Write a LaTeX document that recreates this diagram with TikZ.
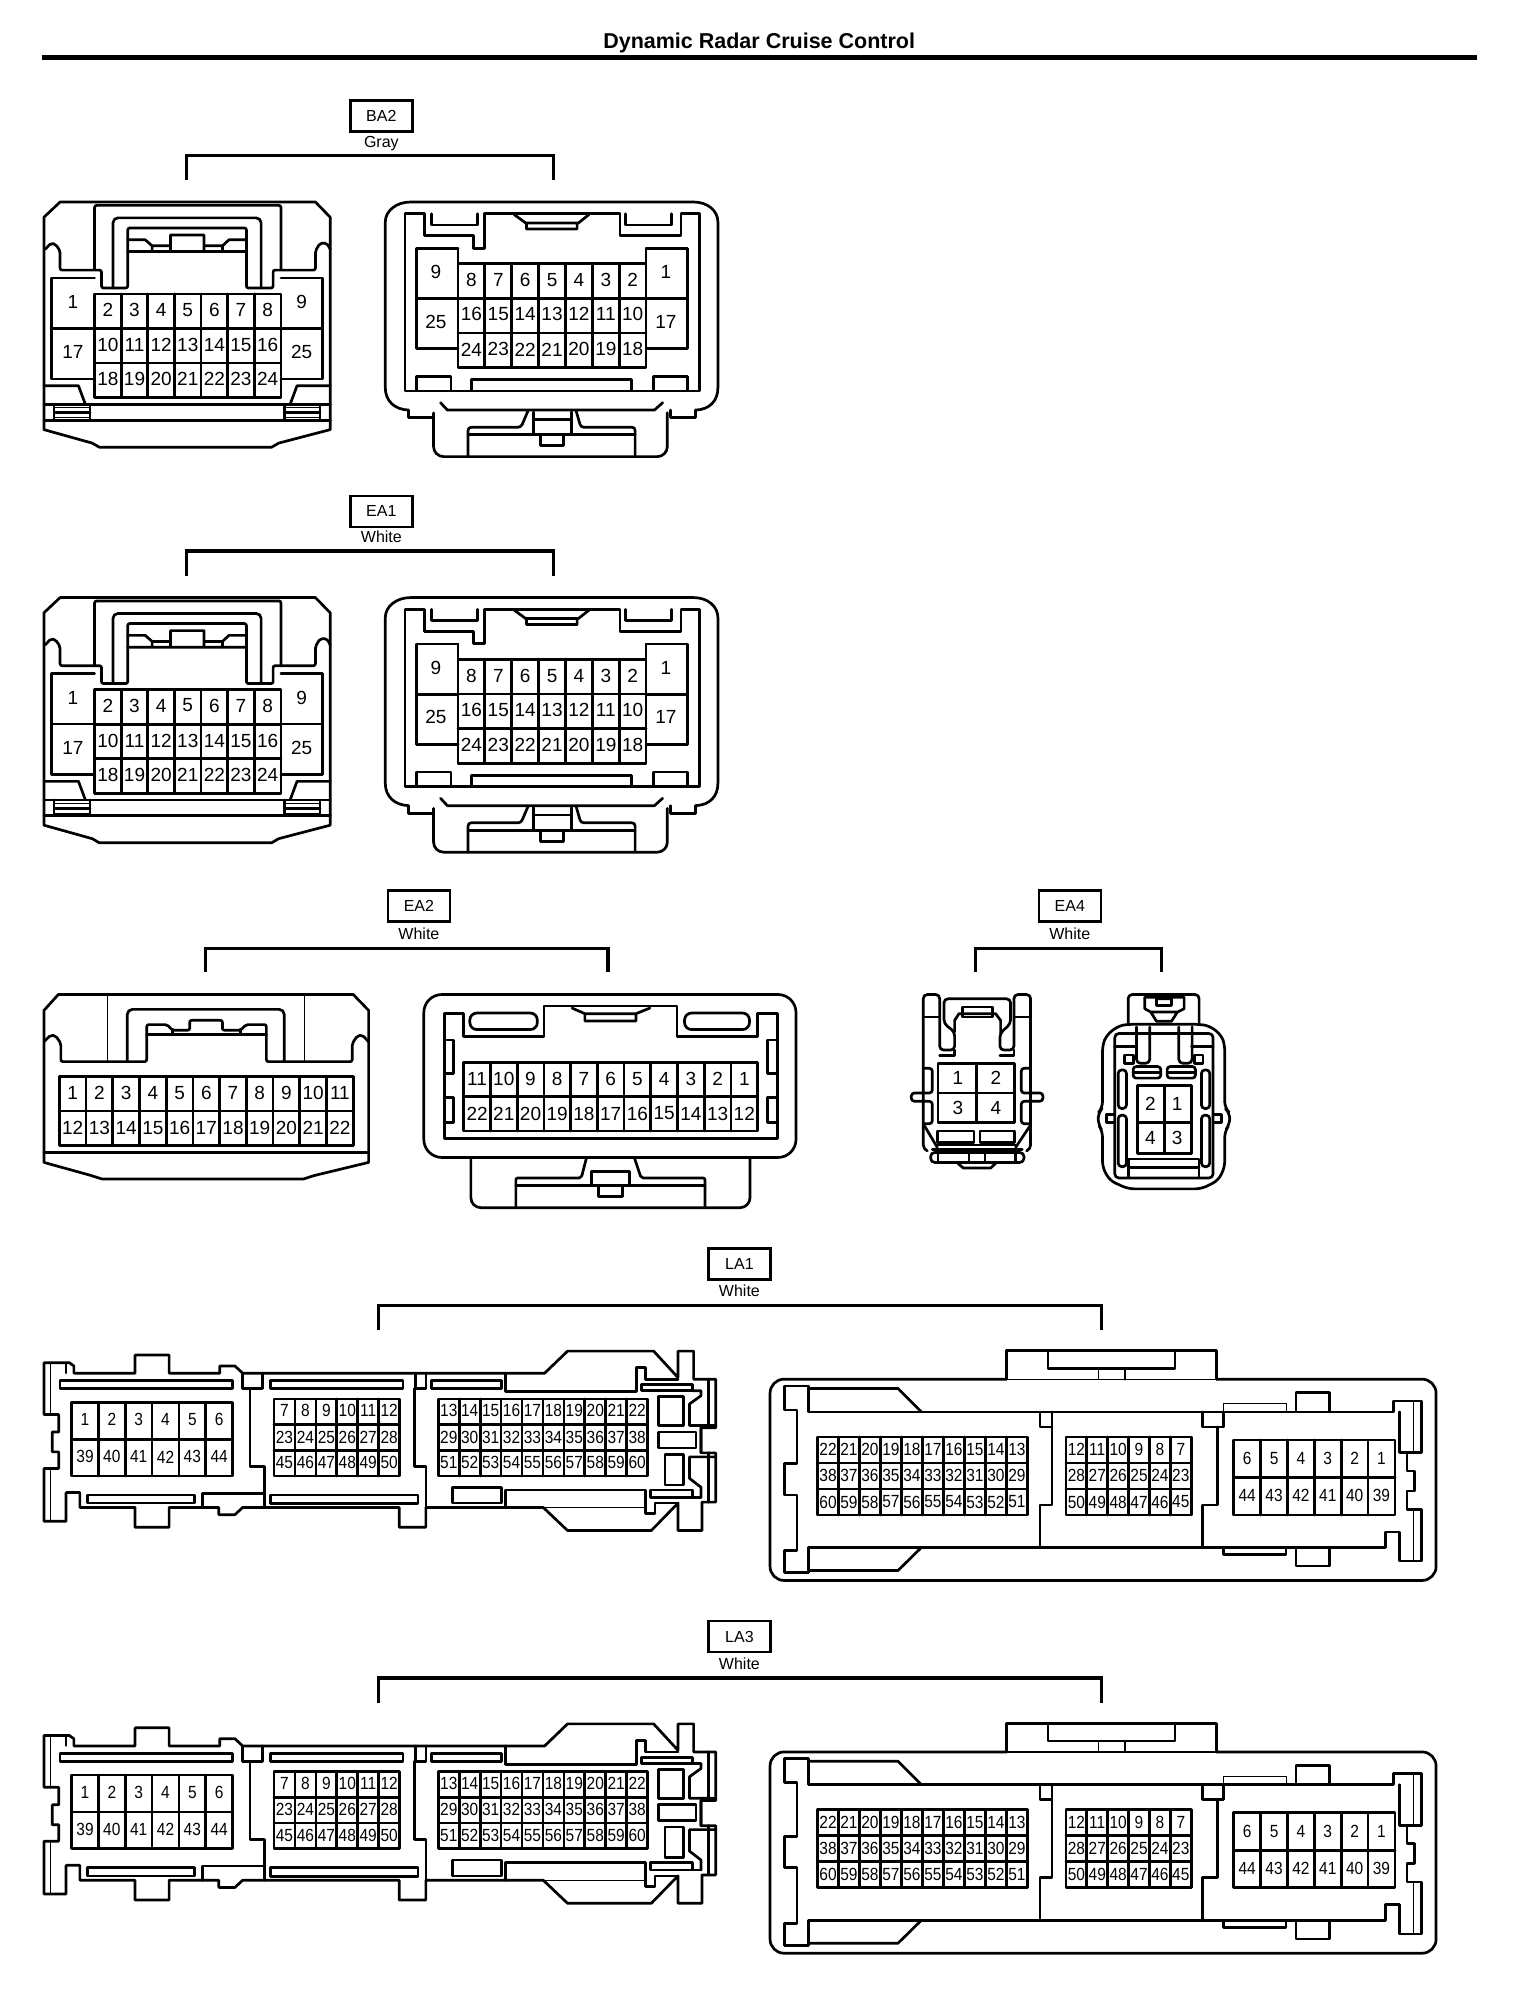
\documentclass[tikz,border=0pt]{standalone}
\usepackage{fontspec}
\setmainfont{Liberation Sans}
\newfontfamily\narrowf[FakeStretch=0.88]{Liberation Sans}
\tikzset{
  ln/.style={line width=1.35pt,line join=round,line cap=round},
  thn/.style={line width=0.6pt,line join=round,line cap=round},
  brk/.style={line width=1.7pt,line join=miter},
  pinlbl/.style={inner sep=0pt,font=\fontsize{9.5}{10}\selectfont},
  lbox/.style={draw,line width=1.2pt,minimum width=31pt,minimum height=15.5pt,inner sep=0pt,font=\fontsize{8}{9}\selectfont},
  lcol/.style={inner sep=0pt,font=\fontsize{8}{9}\selectfont},
  fa/.style={x=0.23256pt,y=-0.17007pt},
  fb/.style={x=0.2584pt,y=-0.16667pt},
  fc/.style={x=0.16835pt,y=-0.16667pt},
  fd/.style={x=0.23256pt,y=-0.16667pt},
  fe/.style={x=0.22624pt,y=-0.16835pt}
}
\newcommand\pinrow[6]{% y, x0, x1, n, first, step
  \foreach \i in {1,...,#4}{%
    \pgfmathsetmacro\cx{#2+(\i-.5)*(#3-#2)/#4}%
    \pgfmathtruncatemacro\lb{#5+(\i-1)*(#6)}%
    \node[pinlbl] (\cn-\lb) at (\cx,#1) {\lb};}}
\newcommand\cgrid[6]{% x0,x1,n,y0,y1,m
  \draw[ln] (#1,#4) rectangle (#2,#5);
  \pgfmathtruncatemacro\nnx{#3-1}%
  \pgfmathtruncatemacro\nny{#6-1}%
  \foreach \i in {1,...,\nnx}{\draw[ln] ({#1+\i*(#2-#1)/#3},#4) -- ({#1+\i*(#2-#1)/#3},#5);}
  \foreach \i in {1,...,\nny}{\draw[ln] (#1,{#4+\i*(#5-#4)/#6}) -- (#2,{#4+\i*(#5-#4)/#6});}}
\newcommand\conlabel[7]{% name, cx, yc, ytext, text, colour, unused
  \node[lbox] (#1) at (#2,#3) {#5};
  \node[lcol] (#1c) at (#2,#4) {#6};}
\newcommand\bracketd[5]{% name, xl, xr, ytop, yend
  \coordinate (#1l) at (#2,#5);
  \coordinate (#1r) at (#3,#5);
  \coordinate (#1t) at (#2,#4);
  \draw[brk] (#1l) -- (#1t) -- (#1r|-#1t) -- (#1r);}
% ---- BA2 / EA1 left
\newcommand\connBL{%
  \draw[ln] (30,380) -- (65,335) -- (620,335) -- (652,380) -- (652,1010) -- (540,1050) -- (525,1062) -- (150,1062) -- (135,1050) -- (30,1010) -- cycle;
  \draw[ln] (30,935) -- (652,935) (30,982) -- (652,982) (52,935) -- (52,982) (130,935) -- (130,982) (552,935) -- (552,982) (630,935) -- (630,982);
  \draw[thn] (55,945) -- (130,945) (55,975) -- (130,975) (552,945) -- (630,945) (552,975) -- (630,975);
  \draw[ln] (55,960) -- (130,960) (552,960) -- (630,960);
  \draw[ln,rounded corners=1pt] (140,535) -- (140,345) -- (545,345) -- (545,535);
  \draw[ln,rounded corners=1pt] (33,475) -- (45,457) -- (55,460) -- (65,480) -- (65,537) -- (155,537) -- (155,590) -- (212,590) -- (212,412) -- (470,412) -- (470,590) -- (528,590) -- (528,537) -- (620,537) -- (620,480) -- (630,457) -- (645,457) -- (652,475);
  \draw[ln,rounded corners=2.5pt] (180,590) -- (180,382) -- (502,382) -- (502,590);
  \draw[ln] (212,447) -- (250,447) -- (265,465) -- (305,465) -- (305,433) -- (378,433) -- (378,465) -- (418,465) -- (432,447) -- (470,447) (212,482) -- (470,482) (265,465) -- (265,482) (305,465) -- (305,482) (378,465) -- (378,482) (418,465) -- (418,482);
  \draw[ln] (140,560) -- (47,560) -- (47,860) -- (140,860) (47,710) -- (140,710);
  \draw[ln] (545,560) -- (635,560) -- (635,860) -- (545,860) (545,710) -- (635,710);
  \draw[ln] (30,880) -- (105,880) -- (120,935) (652,880) -- (580,880) -- (565,935);
  \cgrid{140}{545}{7}{608}{915}{3}
  \node[pinlbl] (\cn-1) at (93,632) {1};
  \node[pinlbl] (\cn-17) at (93,780) {17};
  \node[pinlbl] (\cn-9) at (590,632) {9};
  \node[pinlbl] (\cn-25) at (590,780) {25};
  \pinrow{655}{140}{545}{7}{2}{1}
  \pinrow{760}{140}{545}{7}{10}{1}
  \pinrow{860}{140}{545}{7}{18}{1}
}
% ---- BA2 / EA1 right
\newcommand\connBR{%
  \draw[ln] (825,952) -- (825,975) -- (880,975) (1395,952) -- (1395,975) -- (1450,975) -- (1450,952);
  \draw[ln] (825,952) .. controls (795,950) and (775,925) .. (775,885) -- (775,395) .. controls (775,360) and (800,335) .. (830,335) -- (1445,335) .. controls (1475,335) and (1498,360) .. (1498,395) -- (1498,885) .. controls (1498,925) and (1480,950) .. (1450,952);
  \draw[ln,rounded corners=5pt] (880,960) -- (880,1090) -- (1388,1090) -- (1388,960);
  \draw[ln] (895,930) -- (910,952) -- (1360,952) -- (1378,930);
  \draw[ln,rounded corners=1.5pt] (955,1090) -- (955,1003) -- (1070,1003) -- (1085,955);
  \draw[ln,rounded corners=1.5pt] (1190,955) -- (1200,1003) -- (1318,1003) -- (1318,1090);
  \draw[ln] (955,1025) -- (1318,1025) (1097,980) rectangle (1180,1025) (1112,1025) rectangle (1162,1058) (1097,980) -- (1097,958) (1180,980) -- (1180,958);
  \draw[ln] (818,895) -- (818,370) -- (860,370) -- (860,435) -- (967,435) -- (967,472) -- (990,472) -- (990,370) -- (1285,370) -- (1285,435) -- (1418,435) -- (1418,370) -- (1458,370) -- (1458,895) -- cycle;
  \draw[ln] (875,370) -- (875,403) -- (975,403) -- (975,370) (1297,370) -- (1297,403) -- (1397,403) -- (1397,370);
  \draw[ln] (1055,372) -- (1080,397) -- (1195,397) -- (1218,372) (1082,397) -- (1082,415) -- (1192,415) -- (1192,397);
  \draw[ln] (843,893) -- (843,852) -- (918,852) -- (918,893) (1358,893) -- (1358,852) -- (1432,852) -- (1432,893) (962,893) -- (962,862) -- (1310,862) -- (1310,893);
  \draw[ln] (933,473) -- (843,473) -- (843,770) -- (933,770) (843,622) -- (933,622);
  \draw[ln] (1342,473) -- (1432,473) -- (1432,770) -- (1342,770) (1342,622) -- (1432,622);
  \cgrid{933}{1342}{7}{518}{826}{3}
  \draw[ln] (933,473) -- (933,518) (1342,473) -- (1342,518);
  \node[pinlbl] (\cn-9) at (885,543) {9};
  \node[pinlbl] (\cn-25) at (885,690) {25};
  \node[pinlbl] (\cn-1) at (1385,543) {1};
  \node[pinlbl] (\cn-17) at (1385,690) {17};
  \pinrow{567}{933}{1342}{7}{8}{-1}
  \pinrow{668}{933}{1342}{7}{16}{-1}
  \pinrow{772}{933}{1342}{7}{24}{-1}
}
% ---- LA left
\newcommand\connLL{%
  \draw[ln] (30,65) -- (30,222) -- (62,222) -- (62,275) -- (48,275) -- (48,335) -- (62,335) -- (62,385) -- (30,385) -- (30,545) -- (78,545) -- (78,458) -- (108,458) -- (108,503) -- (228,503) -- (228,563) -- (302,563) -- (302,503) -- (410,503) -- (410,525) -- (445,525) -- (462,503) -- (802,503) -- (802,563) -- (860,563) -- (860,503) -- (1115,503) -- (1168,573) -- (1350,573) -- (1408,490) -- (1408,573) -- (1460,573) -- (1460,487) -- (1490,487) -- (1490,338) -- (1458,338) -- (1458,262) -- (1490,262) -- (1490,115) -- (1442,115) -- (1442,30) -- (1408,30) -- (1408,110) -- (1355,30) -- (1168,30) -- (1118,97) -- (462,97) -- (445,75) -- (412,75) -- (412,97) -- (302,97) -- (302,42) -- (228,42) -- (228,97) -- (95,97) -- (95,75) -- (85,65) -- cycle;
  \draw[thn] (45,65) -- (45,222) (45,385) -- (45,545) (78,65) -- (78,97);
  \draw[ln] (65,120) rectangle (440,143) (522,120) rectangle (810,143) (872,120) rectangle (1025,143) (522,465) rectangle (843,492) (125,465) rectangle (357,490) (918,442) rectangle (1025,490);
  \draw[ln] (462,97) -- (462,143) -- (505,143) -- (505,97) (838,97) -- (838,143) -- (860,143) -- (860,97);
  \draw[ln] (478,143) -- (478,380) -- (510,380) -- (510,503) (835,143) -- (835,380) -- (860,380) -- (860,503);
  \draw[ln] (375,503) -- (375,460) -- (505,460);
  \draw[ln] (1033,97) -- (1033,152) -- (1318,152) -- (1318,80) -- (1337,80) -- (1337,115) -- (1408,115);
  \draw[ln] (1033,503) -- (1033,450) -- (1338,450) -- (1338,522) -- (1358,522) -- (1358,490) -- (1408,490);
  \draw[thn] (1115,503) -- (1338,503);
  \draw[ln] (1328,132) rectangle (1440,150) (1348,450) rectangle (1440,472);
  \draw[ln] (1365,168) rectangle (1420,255) (1365,275) rectangle (1447,323) (1380,342) rectangle (1420,435);
  \draw[ln] (1440,150) -- (1458,150) -- (1458,165) -- (1433,190) -- (1433,255) -- (1490,255) (1458,262) -- (1458,338) (1458,472) -- (1458,442) -- (1433,415) -- (1433,350) -- (1490,350);
  \draw[ln] (1475,115) -- (1475,262) (1475,338) -- (1475,487) (1440,472) -- (1458,472);
  \tikzset{pinlbl/.append style={font=\fontsize{8.8}{10}\narrowf}}
  \cgrid{90}{440}{6}{185}{408}{2}
  \pinrow{238}{90}{440}{6}{1}{1}
  \pinrow{350}{90}{440}{6}{39}{1}
  \cgrid{530}{803}{6}{175}{408}{3}
  \pinrow{210}{530}{803}{6}{7}{1}
  \pinrow{290}{530}{803}{6}{23}{1}
  \pinrow{368}{530}{803}{6}{45}{1}
  \cgrid{887}{1342}{10}{175}{408}{3}
  \pinrow{210}{887}{1342}{10}{13}{1}
  \pinrow{290}{887}{1342}{10}{29}{1}
  \pinrow{368}{887}{1342}{10}{51}{1}
}
% ---- LA right
\newcommand\connLR{%
  \draw[ln,rounded corners=7pt] (550,115) -- (22,115) -- (22,718) -- (1510,718) -- (1510,115) -- (1020,115);
  \draw[ln] (550,115) -- (550,30) -- (1020,30) -- (1020,115) (643,35) -- (643,82) -- (927,82) -- (927,35) (815,85) -- (815,115);
  \draw[thn] (755,85) -- (755,115) (550,115) -- (1020,115);
  \draw[ln] (108,213) -- (108,135) -- (55,135) -- (55,207) -- (82,207) -- (82,368) -- (55,368) -- (55,462) -- (82,462) -- (82,628) -- (55,628) -- (55,695) -- (108,695) -- (108,620) -- (1397,620) -- (1397,573) -- (1428,573) -- (1428,660) -- (1478,660) -- (1478,505) -- (1445,505) -- (1445,450) -- (1462,450) -- (1462,390) -- (1445,390) -- (1445,335) -- (1478,335) -- (1478,180) -- (1415,180) -- (1415,213) -- cycle;
  \draw[ln] (1428,213) -- (1428,335) -- (1445,335);
  \draw[thn] (1460,180) -- (1460,335) (1460,505) -- (1460,660);
  \draw[ln] (108,143) -- (308,143) -- (360,213) (108,688) -- (308,688) -- (358,622);
  \draw[thn] (1035,213) -- (1035,188) -- (1175,188) -- (1175,213);
  \draw[ln] (1197,213) -- (1197,155) -- (1272,155) -- (1272,213);
  \draw[ln] (1035,620) -- (1035,640) -- (1175,640) -- (1175,620) (1197,620) -- (1197,675) -- (1272,675) -- (1272,620);
  \draw[ln] (625,213) -- (625,258) -- (652,258) -- (652,213) (652,258) -- (652,492) -- (625,492) -- (625,620);
  \draw[ln] (988,213) -- (988,258) -- (1035,258) -- (1035,213) (1022,258) -- (1022,492) -- (988,492) -- (988,620);
  \tikzset{pinlbl/.append style={font=\fontsize{8.8}{10}\narrowf}}
  \cgrid{128}{597}{10}{288}{522}{3}
  \pinrow{325}{128}{597}{10}{22}{-1}
  \pinrow{403}{128}{597}{10}{38}{-1}
  \pinrow{483}{128}{597}{10}{60}{-1}
  \cgrid{683}{963}{6}{288}{522}{3}
  \pinrow{325}{683}{963}{6}{12}{-1}
  \pinrow{403}{683}{963}{6}{28}{-1}
  \pinrow{483}{683}{963}{6}{50}{-1}
  \cgrid{1058}{1418}{6}{297}{522}{2}
  \pinrow{352}{1058}{1418}{6}{6}{-1}
  \pinrow{463}{1058}{1418}{6}{44}{-1}
}
\begin{document}
\begin{tikzpicture}[x=0.5pt,y=-0.5pt]
\useasboundingbox[fill=white] (0,0) rectangle (1520,1990);
\begin{scope}[shift={(0.5,1.8)},xscale=0.9892,yscale=0.9914]
% title
\node[inner sep=0pt,font=\fontsize{10.75}{12}\selectfont\bfseries] (title) at (767,42) {Dynamic Radar Cruise Control};
\coordinate (ruleL) at (42,56);
\coordinate (ruleR) at (1493,56);
\draw[line width=2.6pt] (ruleL) -- (ruleR);
% BA2
\conlabel{ba2}{385}{115}{143}{BA2}{Gray}{}
\bracketd{ba2b}{188}{559}{155}{180}
\begin{scope}[shift={(30,88)},fa]\def\cn{BA2L}\connBL\end{scope}
\begin{scope}[shift={(28.5,88)},fa]\def\cn{BA2R}\connBR\end{scope}
% EA1
\conlabel{ea1}{385}{514}{540}{EA1}{White}{}
\bracketd{ea1b}{188}{559}{554}{579}
\begin{scope}[shift={(30,487)},fa]\def\cn{EA1L}\connBL\end{scope}
\begin{scope}[shift={(28.5,487)},fa]\def\cn{EA1R}\connBR\end{scope}
% EA2
\conlabel{ea2}{423}{912}{940}{EA2}{White}{}
\bracketd{ea2b}{207}{614}{955}{979}
\begin{scope}[shift={(30,909)},fb]\def\cn{EA2L}
  \draw[ln] (27,325) -- (55,277) -- (632,277) -- (662,325) -- (662,785) -- (555,825) -- (535,835) -- (140,835) -- (120,825) -- (27,785) -- cycle;
  \draw[ln] (27,755) -- (662,755);
  \draw[thn] (152,480) -- (152,277) (537,277) -- (537,480);
  \draw[ln,rounded corners=1pt] (27,420) -- (40,400) -- (50,402) -- (60,425) -- (60,480) -- (228,480) -- (228,368) -- (268,368) -- (278,385) -- (312,385) -- (312,355) -- (376,355) -- (376,385) -- (412,385) -- (422,368) -- (462,368) -- (462,480) -- (630,480) -- (630,425) -- (640,402) -- (650,400) -- (662,420);
  \draw[ln,rounded corners=2.5pt] (190,480) -- (190,322) -- (497,322) -- (497,480);
  \draw[ln] (228,397) -- (462,397) (278,385) -- (278,397) (412,385) -- (412,397);
  \cgrid{57}{632}{11}{525}{733}{2}
  \pinrow{575}{57}{632}{11}{1}{1}
  \pinrow{680}{57}{632}{11}{12}{1}
\end{scope}
\begin{scope}[shift={(30,909)},fb]\def\cn{EA2R}
  \draw[ln,rounded corners=9pt] (770,770) -- (770,277) -- (1498,277) -- (1498,770) -- cycle;
  \draw[ln,rounded corners=5pt] (862,772) -- (862,922) -- (1408,922) -- (1408,772);
  \draw[ln,rounded corners=1pt] (950,922) -- (950,832) -- (1078,832) -- (1088,772);
  \draw[ln,rounded corners=1pt] (1182,772) -- (1195,832) -- (1320,832) -- (1320,922);
  \draw[ln] (950,855) -- (1320,855) (1098,812) rectangle (1172,855) (1112,855) rectangle (1158,888);
  \draw[ln] (810,712) -- (810,335) -- (848,335) -- (848,403) -- (1005,403) -- (1005,312) -- (1265,312) -- (1265,403) -- (1422,403) -- (1422,335) -- (1462,335) -- (1462,712) -- cycle;
  \draw[ln,rounded corners=3.5pt] (860,333) rectangle (992,383) (1280,333) rectangle (1407,383);
  \draw[ln] (1060,318) -- (1085,335) -- (1185,335) -- (1212,318) (1085,335) -- (1085,357) -- (1185,357) -- (1185,335);
  \draw[ln] (810,415) -- (828,415) -- (828,515) -- (810,515) (810,588) -- (828,588) -- (828,665) -- (810,665) (1462,415) -- (1442,415) -- (1442,515) -- (1462,515) (1462,588) -- (1442,588) -- (1442,665) -- (1462,665);
  \cgrid{848}{1423}{11}{483}{690}{2}
  \pinrow{533}{848}{1423}{11}{11}{-1}
  \pinrow{637}{848}{1423}{11}{22}{-1}
\end{scope}
% EA4
\conlabel{ea4}{1081}{912}{940}{EA4}{White}{}
\bracketd{ea4b}{985.5}{1173.5}{955}{979}
\begin{scope}[shift={(910,909)},fc]\def\cn{EA4L}
  \draw[ln,rounded corners=2pt] (80,750) -- (68,745) -- (68,277) -- (117,277) -- (117,445) -- (162,445) -- (162,390) -- (130,365) -- (130,290) -- (330,290) -- (330,365) -- (298,395) -- (298,445) -- (340,445) -- (340,277) -- (390,277) -- (390,745) -- (378,750);
  \draw[ln] (117,462) -- (162,462) -- (162,445) (298,462) -- (340,462) -- (340,445);
  \draw[ln] (162,390) -- (162,355) -- (175,335) -- (285,335) -- (300,355) -- (300,395);
  \draw[ln] (185,315) rectangle (275,345);
  \draw[ln] (68,345) -- (117,345) (340,345) -- (390,345);
  \draw[ln,rounded corners=1.5pt] (68,500) -- (95,500) -- (95,575) -- (32,575) -- (32,600) -- (95,600) -- (95,668) -- (68,668);
  \draw[ln,rounded corners=1.5pt] (390,500) -- (362,500) -- (362,575) -- (427,575) -- (427,600) -- (362,600) -- (362,668) -- (390,668);
  \draw[ln] (72,675) -- (110,740) (388,675) -- (345,740);
  \draw[ln] (110,690) rectangle (220,725) (238,690) rectangle (342,725);
  \draw[ln] (95,745) -- (365,745) (110,732) -- (345,732);
  \draw[ln,rounded corners=2pt] (90,755) -- (90,785) -- (370,785) -- (370,755) -- cycle;
  \draw[ln] (112,755) -- (112,785) (345,755) -- (345,785) (205,750) -- (205,785) (253,750) -- (253,785);
  \draw[ln] (172,788) -- (188,802) -- (270,802) -- (285,788);
  \draw[ln] (112,485) rectangle (342,665) (228,485) -- (228,665) (112,575) -- (342,575);
  \node[pinlbl] (\cn-1) at (172,530) {1};
  \node[pinlbl] (\cn-2) at (286,530) {2};
  \node[pinlbl] (\cn-3) at (172,620) {3};
  \node[pinlbl] (\cn-4) at (286,620) {4};
\end{scope}
\begin{scope}[shift={(911,909)},fc]\def\cn{EA4R}
  \draw[ln,rounded corners=2pt] (680,367) -- (680,277) -- (893,277) -- (893,367);
  \draw[ln,rounded corners=3pt] (603,430) -- (615,400) -- (650,372) -- (680,367) -- (893,367) -- (925,372) -- (960,400) -- (970,430) -- (970,620) -- (985,635) -- (985,670) -- (970,690) -- (970,800) -- (950,840) -- (900,865) -- (680,865) -- (625,840) -- (603,800) -- (603,690) -- (590,670) -- (590,635) -- (603,620) -- cycle;
  \draw[ln,rounded corners=2pt] (640,395) -- (640,832) -- (935,832) -- (935,395) -- cycle;
  \draw[ln] (640,435) -- (705,435) (870,435) -- (935,435);
  \draw[ln,rounded corners=2pt] (705,375) -- (705,485) -- (745,485) -- (745,375) (832,375) -- (832,485) -- (872,485) -- (872,375);
  \draw[ln] (670,460) rectangle (695,485) (880,460) rectangle (905,485);
  \draw[ln,rounded corners=1.5pt] (695,495) rectangle (778,530) (797,495) rectangle (882,530);
  \draw[ln] (695,512) -- (778,512) (797,512) -- (882,512);
  \draw[ln,rounded corners=1.8pt] (650,505) rectangle (675,622) (900,505) rectangle (925,622) (650,642) rectangle (675,798) (900,642) rectangle (925,798);
  \draw[ln] (640,640) -- (615,640) -- (615,665) -- (640,665) (935,640) -- (960,640) -- (960,665) -- (935,665);
  \draw[ln] (707,552) rectangle (870,757) (790,552) -- (790,757) (707,665) -- (870,665);
  \draw[ln] (682,830) -- (682,775) -- (893,775) -- (893,830) (682,800) -- (893,800);
  \draw[ln] (730,285) -- (730,320) -- (748,330) -- (765,358) -- (810,358) -- (828,330) -- (848,320) -- (848,285) -- cycle (748,330) -- (828,330) (765,290) rectangle (810,310);
  \node[pinlbl] (\cn-2) at (747,607) {2};
  \node[pinlbl] (\cn-1) at (827,607) {1};
  \node[pinlbl] (\cn-4) at (747,712) {4};
  \node[pinlbl] (\cn-3) at (827,712) {3};
\end{scope}
% LA1
\conlabel{la1}{747}{1273}{1300}{LA1}{White}{}
\bracketd{la1b}{382}{1113}{1315}{1340}
\begin{scope}[shift={(30,1351)},fd]\def\cn{LA1L}\connLL\end{scope}
\begin{scope}[shift={(768,1350.6)},fe]\def\cn{LA1R}\connLR\end{scope}
% LA3
\conlabel{la3}{747}{1649}{1676}{LA3}{White}{}
\bracketd{la3b}{382}{1113}{1691}{1716}
\begin{scope}[shift={(30,1727)},fd]\def\cn{LA3L}\connLL\end{scope}
\begin{scope}[shift={(768,1726.6)},fe]\def\cn{LA3R}\connLR\end{scope}
\end{scope}
\end{tikzpicture}
\end{document}
